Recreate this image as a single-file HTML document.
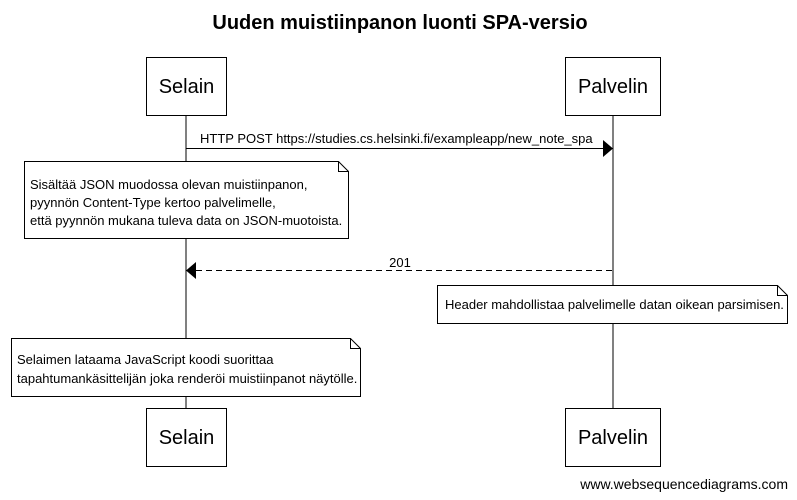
<!DOCTYPE html>
<html><head><meta charset="utf-8"><style>
html,body{margin:0;padding:0;background:#fff;}
svg{display:block;}
text{font-family:"Liberation Sans",Arial,sans-serif;fill:#000;}
</style></head><body>
<svg width="797" height="500" viewBox="0 0 797 500" xmlns="http://www.w3.org/2000/svg">
<text x="400" y="29" font-size="20" font-weight="bold" text-anchor="middle">Uuden muistiinpanon luonti SPA-versio</text>
<line x1="186" y1="116" x2="186" y2="408" stroke="#000" stroke-width="1"/>
<line x1="613" y1="116" x2="613" y2="408" stroke="#000" stroke-width="1"/>
<g fill="#fff" stroke="#000" stroke-width="1">
<rect x="146.5" y="57.5" width="80" height="58"/>
<rect x="565.5" y="57.5" width="95" height="58"/>
<rect x="146.5" y="408.5" width="80" height="58"/>
<rect x="565.5" y="408.5" width="95" height="58"/>
</g>
<text x="186.5" y="93" font-size="20" text-anchor="middle">Selain</text>
<text x="613" y="93" font-size="20" text-anchor="middle">Palvelin</text>
<text x="186.5" y="444" font-size="20" text-anchor="middle">Selain</text>
<text x="613" y="444" font-size="20" text-anchor="middle">Palvelin</text>

<line x1="186" y1="148.5" x2="604" y2="148.5" stroke="#000"/>
<polygon points="603,140 613,148.5 603,157" fill="#000"/>
<text x="200" y="143" font-size="13">HTTP POST https://studies.cs.helsinki.fi/exampleapp/new_note_spa</text>

<path d="M24.5,161.5 H338.5 L348.5,171.5 V238.5 H24.5 Z" fill="#fff" stroke="#000"/>
<path d="M338.5,161.5 V171.5 H348.5" fill="none" stroke="#000"/>
<text font-size="13"><tspan x="30" y="189">Sisältää JSON muodossa olevan muistiinpanon,</tspan><tspan x="30" y="207">pyynnön Content-Type kertoo palvelimelle,</tspan><tspan x="30" y="225">että pyynnön mukana tuleva data on JSON-muotoista.</tspan></text>

<line x1="196" y1="270.5" x2="613" y2="270.5" stroke="#000" stroke-dasharray="6,4"/>
<polygon points="196,262 186,270.5 196,279" fill="#000"/>
<text x="400" y="267" font-size="13" text-anchor="middle">201</text>

<path d="M437.5,285.5 H777.5 L787.5,295.5 V323.5 H437.5 Z" fill="#fff" stroke="#000"/>
<path d="M777.5,285.5 V295.5 H787.5" fill="none" stroke="#000"/>
<text x="445" y="309" font-size="13">Header mahdollistaa palvelimelle datan oikean parsimisen.</text>

<path d="M11.5,338.5 H350.5 L360.5,348.5 V396.5 H11.5 Z" fill="#fff" stroke="#000"/>
<path d="M350.5,338.5 V348.5 H360.5" fill="none" stroke="#000"/>
<text font-size="13"><tspan x="17" y="364">Selaimen lataama JavaScript koodi suorittaa</tspan><tspan x="17" y="383">tapahtumankäsittelijän joka renderöi muistiinpanot näytölle.</tspan></text>

<text x="788" y="489" font-size="14" text-anchor="end">www.websequencediagrams.com</text>
</svg>
</body></html>
